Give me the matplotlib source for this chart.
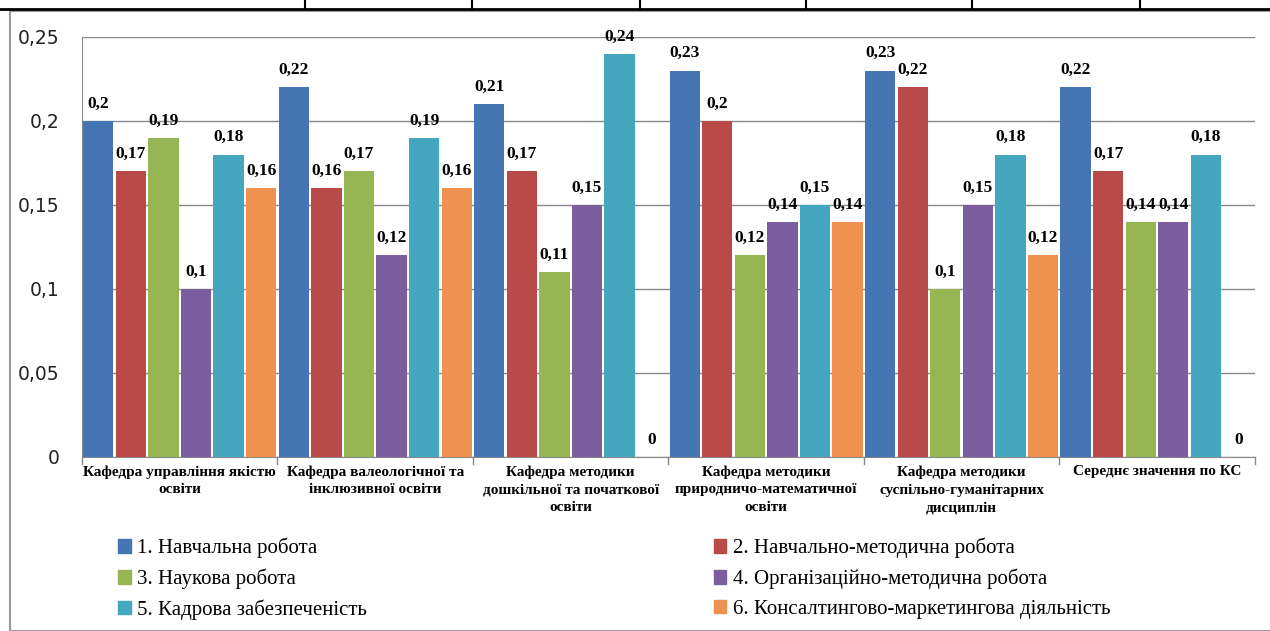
import numpy as np
import matplotlib.pyplot as plt
from matplotlib.lines import Line2D
from matplotlib.patches import Rectangle

# Дані діаграми
categories = [
    'Кафедра управління якістю\nосвіти',
    'Кафедра валеологічної та\nінклюзивної освіти',
    'Кафедра методики\nдошкільної та початкової\nосвіти',
    'Кафедра методики\nприродничо-математичної\nосвіти',
    'Кафедра методики\nсуспільно-гуманітарних\nдисциплін',
    'Середнє значення по КС',
]
series_names = [
    '1. Навчальна робота',
    '2. Навчально-методична робота',
    '3. Наукова робота',
    '4. Організаційно-методична робота',
    '5. Кадрова забезпеченість',
    '6. Консалтингово-маркетингова діяльність',
]
s1 = [0.20, 0.22, 0.21, 0.23, 0.23, 0.22]
s2 = [0.17, 0.16, 0.17, 0.20, 0.22, 0.17]
s3 = [0.19, 0.17, 0.11, 0.12, 0.10, 0.14]
s4 = [0.10, 0.12, 0.15, 0.14, 0.15, 0.14]
s5 = [0.18, 0.19, 0.24, 0.15, 0.18, 0.18]
s6 = [0.16, 0.16, 0.00, 0.14, 0.12, 0.00]
yticks = [0, 0.05, 0.1, 0.15, 0.2, 0.25]

colors = ['#4575B2', '#BA4A47', '#96B654', '#7A5E9E', '#45A6C0', '#EF9150']
series = [s1, s2, s3, s4, s5, s6]

def fmt(v):
    s = ('%g' % v).replace('.', ',')
    return s

fig = plt.figure(figsize=(12.7, 6.31), dpi=100)
ax = fig.add_axes([0.0646, 0.2758, 0.9234, 0.6656])

x = np.arange(len(categories))
n = len(series)
bw = 1.0 / n
for i, (vals, c) in enumerate(zip(series, colors)):
    pos = x - 0.5 + bw * (i + 0.5)
    ax.bar(pos, vals, width=bw * 0.93, color=c, zorder=3)
    for p, v in zip(pos, vals):
        ax.text(p, v + 0.0055, fmt(v), ha='center', va='bottom', fontsize=12.5,
                fontweight='bold', family='Liberation Serif', zorder=4)

ax.set_xlim(-0.5, len(categories) - 0.5)
ax.set_ylim(0, 0.25)
ax.set_yticks(yticks)
ax.set_yticklabels([fmt(t) for t in yticks], fontsize=13.5, family='DejaVu Sans', color='#222222')
ax.yaxis.grid(True, color='#888888', linewidth=1, zorder=0)
ax.tick_params(axis='y', length=0, pad=16)

ax.set_xticks(x)
ax.set_xticklabels(categories, fontsize=11, fontweight='bold', family='Liberation Serif',
                   linespacing=1.45)
ax.tick_params(axis='x', length=0, pad=6)
for b in np.arange(-0.5, len(categories)):
    ax.plot([b, b], [0, -0.004], color='#888888', lw=1, clip_on=False)

for s in ['top', 'right']:
    ax.spines[s].set_visible(False)
ax.spines['left'].set_color('#888888')
ax.spines['bottom'].set_color('#888888')

# легенда заповнюється по стовпцях, тому переставляємо порядок
order = [0, 2, 4, 1, 3, 5]
handles = [Rectangle((0, 0), 1, 1, color=colors[k]) for k in order]
labels = [series_names[k] for k in order]
ax.legend(handles, labels, loc='upper left', bbox_to_anchor=(0.015, -0.148),
          ncol=2, frameon=False, prop={'family': 'Liberation Serif', 'size': 15},
          handlelength=0.6, handleheight=0.6, handletextpad=0.3,
          columnspacing=16.65, labelspacing=0.5)

# рамка діаграми та фрагмент таблиці зверху
fig.add_artist(Rectangle((10 / 1270, 0), 1, 1 - 11 / 631, transform=fig.transFigure,
                         fill=False, edgecolor='#999999', lw=1.5))
fig.add_artist(Line2D([0, 1], [1 - 9 / 631, 1 - 9 / 631], color='black', lw=2))
for xv in [305, 472, 640, 806, 972, 1140]:
    fig.add_artist(Line2D([xv / 1270, xv / 1270], [1 - 9 / 631, 1], color='black', lw=1.5))

fig.savefig('out.png', dpi=100)
